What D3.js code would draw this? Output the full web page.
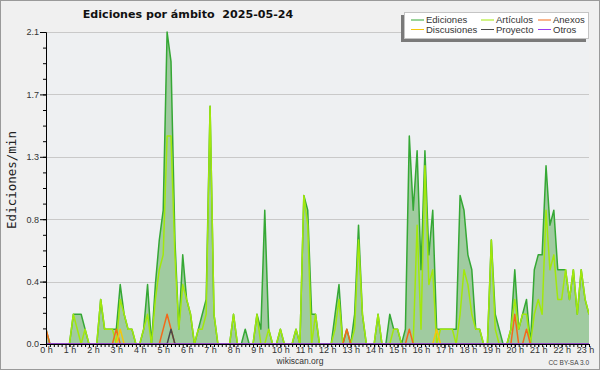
<!DOCTYPE html>
<html><head><meta charset="utf-8">
<script src="https://cdn.jsdelivr.net/npm/d3@7"></script>
<style>body{margin:0;background:#f0f0f0}svg{display:block}</style>
</head><body><svg id="c" width="600" height="370"></svg>
<script>
const titleText = "Ediciones por ámbito  2025-05-24";
const yLabel = "Ediciones/min";
const seriesNames = ["Ediciones","Artículos","Anexos","Discusiones","Proyecto","Otros"];
const seriesColors = ["#35a835","#a2e80c","#f26a1b","#f5c60a","#4a4a4a","#9a3cf0"];
const hourLabels = ["0 h","1 h","2 h","3 h","4 h","5 h","6 h","7 h","8 h","9 h","10 h","11 h","12 h","13 h","14 h","15 h","16 h","17 h","18 h","19 h","20 h","21 h","22 h","23 h"];
const yTickValues = [0, 0.42, 0.84, 1.26, 1.68, 2.1];
// one value every 10 minutes, 00:00 .. 23:10
const ediciones = [
 0.1,0,0,0,0,0,  0,0.2,0.2,0.2,0.1,0,  0,0,0.3,0.1,0.1,0.1,  0.1,0.4,0.2,0.1,0.1,0,
 0,0.1,0.4,0,0.4,0.7,  0.9,2.1,1.9,0.7,0.1,0.6,  0.3,0.2,0,0.1,0.2,0.3,  1.6,0.2,0,0,0,0,
 0.2,0,0,0.1,0,0,  0.2,0.1,0.9,0.1,0,0,  0.1,0,0,0,0.1,0,  1.0,0.9,0.2,0.2,0,0,
 0,0,0.2,0.4,0,0.1,  0,0.2,0.8,0.2,0,0,  0,0.2,0,0,0.2,0.1,  0.1,0,0.1,1.4,0.9,1.3,
 0.5,1.3,0.6,0.9,0.1,0.1,  0.1,0.1,0.1,0.1,1.0,0.9,  0.6,0.5,0.1,0.1,0,0,  0.7,0.2,0.1,0,0,0.1,
 0.5,0.1,0.2,0.3,0,0.5,  0.6,0.6,1.2,0.8,0.9,0.5,  0.5,0.5,0.3,0.5,0.2,0.5,  0.3,0.2
];
const articulos = [
 0,0,0,0,0,0,  0,0.2,0.1,0,0.1,0,  0,0,0.3,0.1,0.1,0.1,  0,0.3,0.2,0.1,0.1,0,
 0,0.1,0.2,0,0.3,0.5,  0.6,1.4,1.4,0.6,0.1,0.4,  0.3,0.2,0,0.1,0.1,0.2,  1.6,0.2,0,0,0,0,
 0.2,0,0,0,0,0,  0.2,0,0,0.1,0,0,  0.1,0,0,0,0.1,0,  1.0,0.8,0,0.2,0,0,
 0,0,0.1,0.3,0,0,  0,0.1,0.7,0.2,0,0,  0,0.2,0,0,0,0.1,  0.1,0,0,0,0,0.8,
 0.1,1.2,0.4,0.5,0,0.1,  0.1,0.1,0.1,0,0.2,0.5,  0.4,0.2,0.1,0.1,0,0,  0.7,0.1,0,0,0,0.1,
 0.3,0.1,0.2,0.2,0,0.2,  0.3,0.2,0.9,0.5,0.6,0.3,  0.3,0.5,0.3,0.5,0.2,0.5,  0.3,0.2
];
const anexos = [
 0.1,0,0,0,0,0,  0,0,0,0,0,0,  0,0,0,0,0,0,  0.1,0,0,0,0,0,
 0,0,0,0,0,0,  0.1,0.2,0.1,0,0,0,  0,0,0,0,0,0,  0,0,0,0,0,0,
 0,0,0,0,0,0,  0,0,0,0,0,0,  0,0,0,0,0,0,  0,0,0,0,0,0,
 0,0,0,0,0,0.1,  0,0,0,0,0,0,  0,0,0,0,0,0,  0,0,0,0.1,0,0,
 0,0,0,0,0,0,  0,0,0,0,0,0,  0,0,0,0,0,0,  0,0,0,0,0,0,
 0.2,0,0,0.1,0,0,  0,0,0,0,0,0,  0,0,0,0,0,0,  0,0
];
const discusiones = [
 0,0,0,0,0,0,  0,0,0,0,0,0,  0,0,0,0,0,0,  0,0.1,0,0,0,0,
 0,0,0,0,0,0,  0,0,0,0,0,0,  0,0,0,0,0,0,  0,0,0,0,0,0,
 0,0,0,0,0,0,  0,0,0,0,0,0,  0,0,0,0,0,0,  0,0,0,0,0,0,
 0,0,0,0,0,0,  0,0,0,0,0,0,  0,0,0,0,0,0,  0,0,0,0,0,0,
 0,0,0,0,0.1,0,  0,0,0,0,0,0,  0,0,0,0,0,0,  0,0,0,0,0,0,
 0,0,0,0,0,0,  0,0,0,0,0,0,  0,0,0,0,0,0,  0,0
];
const proyecto = [
 0,0,0,0,0,0,  0,0,0,0,0,0,  0,0,0,0,0,0,  0,0,0,0,0,0,
 0,0,0,0,0,0,  0,0,0.1,0,0,0,  0,0,0,0,0,0,  0,0,0,0,0,0,
 0,0,0,0,0,0,  0,0,0,0,0,0,  0,0,0,0,0,0,  0,0,0,0,0,0,
 0,0,0,0,0,0,  0,0,0,0,0,0,  0,0,0,0,0,0,  0,0,0,0,0,0,
 0,0,0,0,0,0,  0,0,0,0,0,0,  0,0,0,0,0,0,  0,0,0,0,0,0,
 0,0,0,0,0,0,  0,0,0,0,0,0,  0,0,0,0,0,0,  0,0
];
const otros = ediciones.map(() => 0);

const seriesValues = [ediciones, articulos, anexos, discusiones, proyecto, otros];
const minutes = ediciones.map((_, i) => i * 10);

const svg = d3.select("#c");
const x = d3.scaleLinear().domain([0, 1390]).range([46, 589]);
const y = d3.scaleLinear().domain([0, 2.1]).range([344, 32]);
const [xl, xr] = x.range();

svg.append("rect").attr("x",0.5).attr("y",0.5).attr("width",599).attr("height",369)
  .attr("fill","#f0f0f0").attr("stroke","#9a9a9a");
svg.append("rect").attr("x",xl).attr("y",y(2.1)).attr("width",xr-xl).attr("height",y(0)-y(2.1))
  .attr("fill","#eef0f2");

// grid
svg.append("g").selectAll("line").data(yTickValues.slice(1)).join("line")
  .attr("x1",xl).attr("x2",xr).attr("y1",d=>Math.round(y(d))+0.5).attr("y2",d=>Math.round(y(d))+0.5)
  .attr("stroke","#c9c9c9").attr("stroke-width",1);

svg.append("clipPath").attr("id","clip").append("rect")
  .attr("x",xl).attr("y",20).attr("width",xr-xl).attr("height",y(0)-20);
const g = svg.append("g").attr("clip-path","url(#clip)");

g.append("path").datum(ediciones)
  .attr("d", d3.area().x((d,i)=>x(minutes[i])).y0(y(0)).y1(d=>y(d)))
  .attr("fill","#a0cba0");

const line = d3.line().x((d,i)=>x(minutes[i])).y(d=>y(d));
seriesValues.forEach((vals, k) => {
  g.append("path").datum(vals).attr("d", line)
    .attr("fill","none").attr("stroke", seriesColors[k]).attr("stroke-width",1.5)
    .attr("stroke-linejoin","round");
});

// axes
const tickFont = "'Liberation Sans', Arial, sans-serif";
const yMinor = svg.append("g").attr("transform",`translate(${xl},0)`)
  .call(d3.axisLeft(y).tickValues(d3.range(0, 2.1001, 0.105)).tickSize(3).tickSizeOuter(0).tickFormat(""));
const yMajor = svg.append("g").attr("transform",`translate(${xl},0)`)
  .call(d3.axisLeft(y).tickValues(yTickValues).tickSize(6).tickSizeOuter(0).tickPadding(1).tickFormat(d3.format(".1f")));
const xMinor = svg.append("g").attr("transform",`translate(0,${y(0)})`)
  .call(d3.axisBottom(x).tickValues(d3.range(0, 1391, 10)).tickSize(3).tickSizeOuter(0).tickFormat(""));
const xMajor = svg.append("g").attr("transform",`translate(0,${y(0)})`)
  .call(d3.axisBottom(x).tickValues(d3.range(0, 1390, 60)).tickSize(3).tickSizeOuter(0).tickPadding(0)
    .tickFormat((d,i)=>hourLabels[i]));
[yMinor,yMajor,xMinor,xMajor].forEach(a => {
  a.selectAll("path,line").attr("stroke","#000");
  a.selectAll("text").attr("font-family",tickFont).attr("font-size",9).attr("fill","#333");
});

// title
svg.append("text").attr("x",188).attr("y",17.5).attr("text-anchor","middle")
  .attr("font-family","'DejaVu Sans', sans-serif").attr("font-weight","bold").attr("font-size",11.1)
  .attr("fill","#111").style("white-space","pre").text(titleText);

// y label
svg.append("text").attr("transform","translate(15.5,180) rotate(-90)").attr("text-anchor","middle")
  .attr("font-family","'DejaVu Sans Mono', monospace").attr("font-size",12.5).attr("fill","#222")
  .text(yLabel);

// legend
const lg = svg.append("g");
lg.append("rect").attr("x",401).attr("y",15).attr("width",185).attr("height",27).attr("fill","#7a7a7a");
lg.append("rect").attr("x",404.5).attr("y",12.5).attr("width",184).attr("height",26)
  .attr("fill","#ffffff").attr("stroke","#c4c4c4");
const colX = [411, 481, 538];
const rowY = [19.5, 29];
seriesNames.forEach((name, k) => {
  const cx = colX[k % 3], cy = rowY[Math.floor(k / 3)];
  lg.append("line").attr("x1",cx).attr("x2",cx+13).attr("y1",cy+0.5).attr("y2",cy+0.5)
    .attr("stroke",seriesColors[k]).attr("stroke-width",1);
  lg.append("text").attr("x",cx+15).attr("y",cy+3.5)
    .attr("font-family",tickFont).attr("font-size",9.5).attr("fill","#333").text(name);
});

svg.append("text").attr("x",300).attr("y",364).attr("text-anchor","middle")
  .attr("font-family",tickFont).attr("font-size",8.5).attr("fill","#333").text("wikiscan.org");
svg.append("text").attr("x",589).attr("y",365).attr("text-anchor","end")
  .attr("font-family",tickFont).attr("font-size",6.5).attr("fill","#444").text("CC BY-SA 3.0");
</script></body></html>
